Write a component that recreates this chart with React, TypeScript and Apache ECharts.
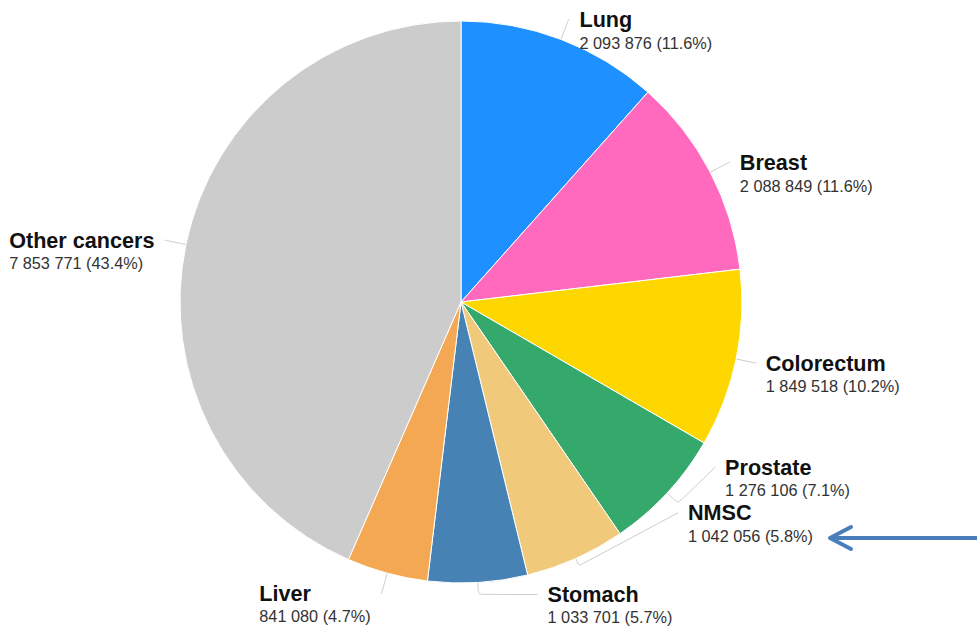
import React, { useEffect, useRef } from "react";
import * as echarts from "echarts";

const categories = ["Lung", "Breast", "Colorectum", "Prostate", "NMSC", "Stomach", "Liver", "Other cancers"];
const values = [2093876, 2088849, 1849518, 1276106, 1042056, 1033701, 841080, 7853771];
const colors = ["#1e90ff", "#ff69be", "#ffd700", "#35a96c", "#f0c97b", "#4682b4", "#f4a853", "#cccccc"];

// label line tweaks (style only)
const lineTweaks: Record<string, { length?: number; length2?: number; dy?: number }> = {
  Colorectum: { length: 20, length2: 0 },
  Prostate: { length: 15, length2: 37, dy: -36 },
  NMSC: { length: 8, length2: 99, dy: -53 },
  Stomach: { length: 12, length2: 59 },
};

const total = values.reduce((a, b) => a + b, 0);
const fmt = (v: number) => String(v).replace(/\B(?=(\d{3})+(?!\d))/g, " ");
const FONT = "Liberation Sans, Arial, sans-serif";

export default function App() {
  const ref = useRef<HTMLDivElement>(null);
  useEffect(() => {
    if (!ref.current) return;
    const chart = echarts.init(ref.current, null, { renderer: "svg" });
    chart.setOption({
      animation: false,
      backgroundColor: "#ffffff",
      textStyle: { fontFamily: FONT },
      series: [
        {
          type: "pie",
          center: [461, 302],
          radius: 281,
          startAngle: 90,
          clockwise: true,
          avoidLabelOverlap: false,
          itemStyle: { borderColor: "#ffffff", borderWidth: 1 },
          label: {
            show: true,
            position: "outside",
            distanceToLabelLine: 10,
            padding: [22, 0, 0, 0],
            formatter: (p: any) =>
              `{n|${p.name}}\n{v|${fmt(p.value)} (${((p.value / total) * 100).toFixed(1)}%)}`,
            rich: {
              n: { fontSize: 21.6, fontWeight: "bold", color: "#111111", lineHeight: 24, align: "left", fontFamily: FONT },
              v: { fontSize: 16.3, color: "#333333", lineHeight: 22, align: "left", fontFamily: FONT },
            },
          },
          labelLine: {
            show: true,
            length: 21,
            length2: 1,
            smooth: 0.15,
            minTurnAngle: 30,
            lineStyle: { color: "#cccccc", width: 1 },
          },
          labelLayout: (params: any) => {
            const t = lineTweaks[categories[params.dataIndex]];
            if (!t || !t.dy || !params.labelLinePoints) return {};
            const pts = params.labelLinePoints.map((p: number[]) => [p[0], p[1]]);
            const last = pts[pts.length - 1];
            last[1] += t.dy;
            return { dy: t.dy, labelLinePoints: pts };
          },
          data: categories.map((c, i) => {
            const t = lineTweaks[c] || {};
            const item: any = { name: c, value: values[i], itemStyle: { color: colors[i] } };
            if (t.length != null) item.labelLine = { length: t.length, length2: t.length2 };
            return item;
          }),
        },
      ],
      graphic: [
        {
          type: "group",
          children: [
            { type: "line", shape: { x1: 977, y1: 538, x2: 831, y2: 538 }, style: { stroke: "#4a7ebb", lineWidth: 4, lineCap: "round" } },
            { type: "polyline", shape: { points: [[851, 527], [830, 538], [851, 549]] }, style: { stroke: "#4a7ebb", lineWidth: 4, lineCap: "round", lineJoin: "round", fill: "none" } },
          ],
        },
      ],
    });
    return () => chart.dispose();
  }, []);
  return <div ref={ref} style={{ position: "fixed", left: 0, top: 0, width: 977, height: 627 }} />;
}
